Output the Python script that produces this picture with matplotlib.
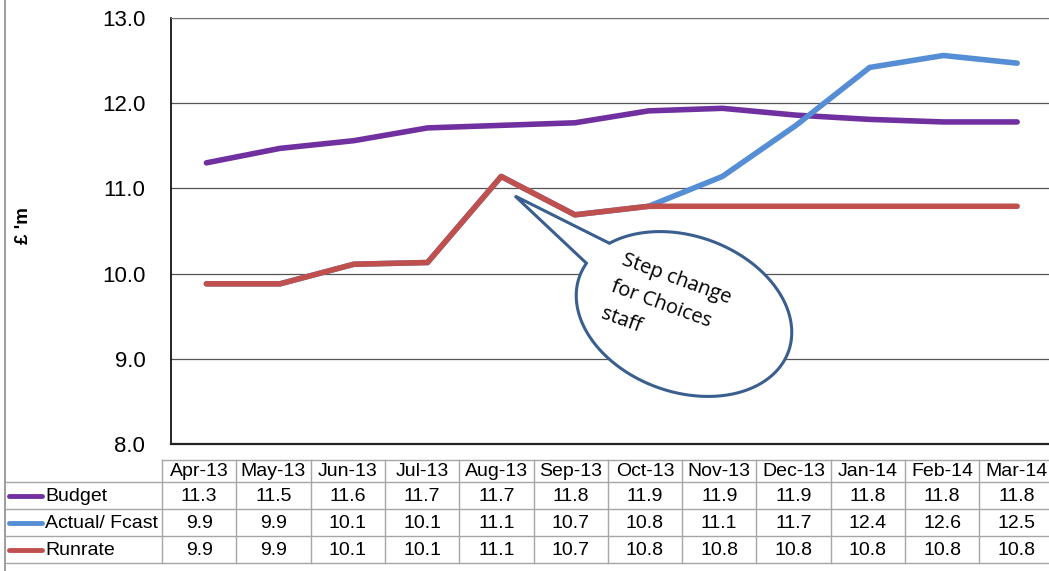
import numpy as np
import matplotlib
matplotlib.use("Agg")
import matplotlib.pyplot as plt
import matplotlib.transforms as mtransforms
from matplotlib.lines import Line2D
from matplotlib.patches import Polygon

plt.rcParams['font.family'] = ['Liberation Sans', 'DejaVu Sans']

months = ['Apr-13', 'May-13', 'Jun-13', 'Jul-13', 'Aug-13', 'Sep-13',
          'Oct-13', 'Nov-13', 'Dec-13', 'Jan-14', 'Feb-14', 'Mar-14']
budget = [11.30, 11.47, 11.56, 11.71, 11.74, 11.77, 11.91, 11.94, 11.86, 11.81, 11.78, 11.78]
actual = [9.88, 9.88, 10.11, 10.13, 11.14, 10.69, 10.79, 11.14, 11.74, 12.42, 12.56, 12.47]
runrate = [9.88, 9.88, 10.11, 10.13, 11.14, 10.69, 10.79, 10.79, 10.79, 10.79, 10.79, 10.79]

series_names = ['Budget', 'Actual/ Fcast', 'Runrate']
series_vals = [budget, actual, runrate]
colors = ['#7030A0', '#558ED5', '#C0504D']

W, H = 1049, 571
fig = plt.figure(figsize=(W / 100, H / 100), dpi=100)
# pixel coordinates, origin top-left
px = mtransforms.Affine2D().scale(1 / W, -1 / H).translate(0, 1) + fig.transFigure

ax = fig.add_axes([171 / W, (H - 444) / H, 883 / W, 426 / H])
x = np.arange(len(months))
for k, (vals, c) in enumerate(zip(series_vals, colors)):
    ax.plot(x, vals, color=c, lw=4, solid_capstyle='round',
            solid_joinstyle='round', zorder=3 + k)

ax.set_xlim(-0.48, 11.5)
ax.set_ylim(8, 13)
ax.set_yticks(np.arange(8, 13.5, 1.0))
ax.set_yticklabels(['%.1f' % v for v in np.arange(8, 13.5, 1.0)], fontsize=16)
ax.set_xticks([])
ax.tick_params(axis='y', length=0, pad=18.5)
ax.grid(axis='y', color='#555555', lw=0.9)
ax.set_axisbelow(True)
ax.spines['right'].set_visible(False)
ax.spines['top'].set_color('#777777')
ax.spines['left'].set_linewidth(1.2)
ax.spines['bottom'].set_linewidth(1.6)
ax.spines['bottom'].set_color('#222222')

fig.text(23, 226, "£ 'm", transform=px, rotation=90, fontsize=13.5,
         fontweight='bold', ha='center', va='center')

# chart border on the left
fig.add_artist(Line2D([5, 5], [0, 571], transform=px, color='#8c8c8c', lw=1.2))

# data table under the chart
col_left, col_w = 162, 74.3
n = len(months)
right = col_left + col_w * n
row_y = [460, 482, 509, 536, 563]
grid_c = '#a6a6a6'
fig.add_artist(Line2D([col_left, right], [row_y[0]] * 2, transform=px, color=grid_c, lw=1))
for yy in row_y[1:]:
    fig.add_artist(Line2D([5, right], [yy, yy], transform=px, color=grid_c, lw=1))
for i in range(n + 1):
    xx = col_left + col_w * i
    fig.add_artist(Line2D([xx, xx], [row_y[0], row_y[-1]], transform=px, color=grid_c, lw=1))

for i, m in enumerate(months):
    cx = col_left + col_w * (i + 0.5)
    fig.text(cx, (row_y[0] + row_y[1]) / 2 + 1, m, transform=px, fontsize=14,
             ha='center', va='center')

for r, (name, vals, c) in enumerate(zip(series_names, series_vals, colors)):
    cy = (row_y[r + 1] + row_y[r + 2]) / 2 + 1
    fig.add_artist(Line2D([9, 42], [cy - 1, cy - 1], transform=px, color=c, lw=3.5,
                          solid_capstyle='round'))
    fig.text(45, cy, name, transform=px, fontsize=14, ha='left', va='center')
    for i, v in enumerate(vals):
        cx = col_left + col_w * (i + 0.5)
        fig.text(cx, cy, '%.1f' % v, transform=px, fontsize=14,
                 ha='center', va='center')

# speech-bubble callout
cxe, cye, a, b = 684, 314, 111, 78
th = np.radians(19.7)
t = np.radians(np.linspace(-147.9, 191.0, 200))
ex = cxe + a * np.cos(t) * np.cos(th) - b * np.sin(t) * np.sin(th)
ey = cye + a * np.cos(t) * np.sin(th) + b * np.sin(t) * np.cos(th)
pts = np.column_stack([ex, ey])
pts = np.vstack([pts, [515, 196]])
bubble = Polygon(pts, closed=True, transform=px, facecolor='white',
                 edgecolor='#3A5F8F', lw=2.2, joinstyle='miter', zorder=6)
fig.add_artist(bubble)
fig.text(666, 306, 'Step change\nfor Choices\nstaff', transform=px,
         family=['Open Sans', 'DejaVu Sans'], fontsize=14.5, rotation=-20,
         rotation_mode='anchor', ha='center', va='center',
         multialignment='left', linespacing=1.6, zorder=7)

fig.savefig('out.png', dpi=100)
